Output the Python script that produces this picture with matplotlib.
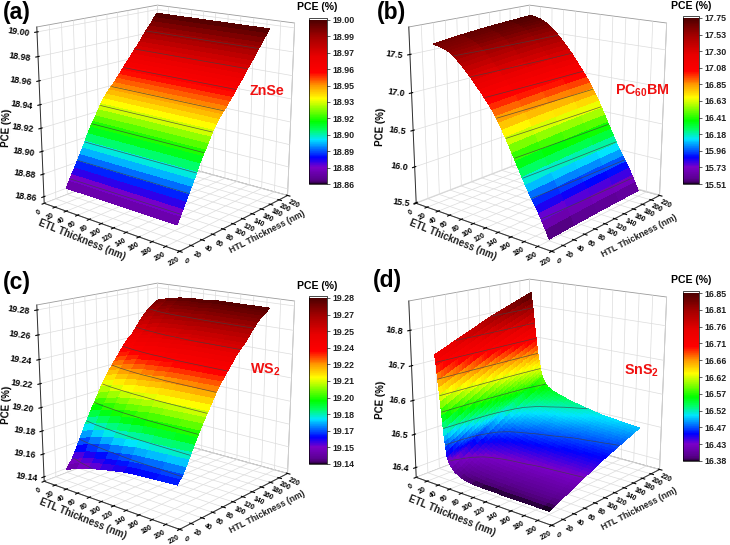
import numpy as np
import matplotlib
matplotlib.use('Agg')
import matplotlib.pyplot as plt
from matplotlib.cm import ScalarMappable
from matplotlib.colors import LinearSegmentedColormap, Normalize

plt.rcParams['font.family'] = ['Liberation Sans', 'DejaVu Sans']
plt.rcParams['font.weight'] = 'bold'
plt.rcParams['mathtext.fontset'] = 'custom'
plt.rcParams['mathtext.bf'] = 'Liberation Sans:bold'
plt.rcParams['grid.color'] = '#dcdcdc'
plt.rcParams['grid.linewidth'] = 0.5

W, H = 730, 545

axis_ticks = [0, 20, 40, 60, 80, 100, 120, 140, 160, 180, 200, 220]

# thickness nodes (nm)
htl_fine = list(range(20, 200, 5))
etl_even = list(range(20, 205, 5))
etl_wall = list(range(20, 41)) + list(range(45, 205, 5))

# ZnSe
etl_a = [20, 110, 200]
htl_a = htl_fine
low_a = [18.867, 18.867, 18.867]
high_a = [19.0, 19.0, 19.0]
shape_a = [0, .038, .076, .114, .152, .19, .228, .267, .311, .349, .381, .413, .448, .483, .512, .537,
           .561, .58, .599, .624, .644, .668, .693, .715, .736, .761, .787, .805, .83, .855, .88, .903,
           .923, .95, .974, 1]

# PC60BM
etl_b = etl_even
htl_b = [20, 65, 110, 155, 200]
low_b = [17.63, 17.62, 17.61, 17.60, 17.59, 17.57, 17.55, 17.52, 17.48, 17.44, 17.40, 17.35, 17.31,
         17.26, 17.21, 17.16, 17.11, 17.05, 17.00, 16.94, 16.87, 16.80, 16.72, 16.64, 16.55, 16.46,
         16.37, 16.28, 16.19, 16.10, 16.02, 15.94, 15.87, 15.79, 15.70, 15.61, 15.51]
high_b = [17.75, 17.74, 17.73, 17.72, 17.70, 17.68, 17.65, 17.62, 17.58, 17.54, 17.50, 17.45, 17.40,
          17.35, 17.30, 17.24, 17.18, 17.12, 17.06, 17.00, 16.93, 16.86, 16.78, 16.70, 16.61, 16.52,
          16.43, 16.34, 16.25, 16.16, 16.08, 16.00, 15.93, 15.85, 15.76, 15.67, 15.57]
shape_b = [0, .35, .62, .84, 1]

# WS2
etl_c = [20, 40, 60, 80, 100, 120, 140, 170, 200]
htl_c = htl_fine
low_c = [19.146, 19.150, 19.153, 19.156, 19.158, 19.160, 19.161, 19.162, 19.163]
high_c = [19.272, 19.275, 19.277, 19.278, 19.278, 19.279, 19.279, 19.279, 19.279]
shape_c = [0, .027, .053, .093, .137, .179, .222, .265, .304, .344, .38, .415, .452, .49, .524, .557,
           .585, .612, .64, .665, .69, .718, .743, .764, .785, .80, .826, .85, .875, .897, .92, .938,
           .956, .97, .98, 1]

# SnS2
etl_d = etl_wall
htl_d = list(range(20, 205, 5))
low_d = [16.73, 16.715, 16.70, 16.68, 16.66, 16.64, 16.62, 16.60, 16.58, 16.56, 16.54, 16.52, 16.50,
         16.485, 16.47, 16.455, 16.44, 16.435, 16.43, 16.425, 16.42,
         16.41, 16.40, 16.395, 16.39, 16.387, 16.385, 16.384, 16.383, 16.382, 16.382,
         16.381, 16.381, 16.381, 16.381, 16.381, 16.381,
         16.38, 16.38, 16.38, 16.38, 16.38, 16.38, 16.38, 16.38,
         16.38, 16.38, 16.38, 16.38, 16.38, 16.38, 16.38, 16.38]
high_d = [16.85, 16.835, 16.82, 16.805, 16.79, 16.77, 16.75, 16.735, 16.72, 16.705, 16.69, 16.675, 16.66,
          16.65, 16.64, 16.63, 16.62, 16.61, 16.60, 16.595, 16.59,
          16.57, 16.56, 16.555, 16.55, 16.547, 16.544, 16.541, 16.538, 16.535, 16.532,
          16.53, 16.528, 16.526, 16.524, 16.522, 16.52, 16.518, 16.516, 16.514, 16.512,
          16.511, 16.51, 16.509, 16.508, 16.507, 16.506, 16.505, 16.504, 16.503, 16.502, 16.501, 16.50]
shape_d = [0, .03, .06, .09, .12, .15, .18, .21, .24, .27, .30, .33, .36, .39, .42, .45, .48, .51, .54,
           .57, .60, .625, .65, .675, .70, .725, .75, .775, .80, .825, .85, .875, .90, .925, .95, .975, 1]

# axis ranges and labels
zlim_a = (18.854, 19.004)
zlim_b = (15.49, 17.85)
zlim_c = (19.136, 19.284)
zlim_d = (16.37, 16.881)
zticks_a = [18.86, 18.88, 18.90, 18.92, 18.94, 18.96, 18.98, 19.00]
zticks_b = [15.5, 16.0, 16.5, 17.0, 17.5]
zticks_c = [19.14, 19.16, 19.18, 19.20, 19.22, 19.24, 19.26, 19.28]
zticks_d = [16.4, 16.5, 16.6, 16.7, 16.8]
bar_a = ['18.86', '18.88', '18.89', '18.90', '18.92', '18.93', '18.95', '18.96', '18.97', '18.99', '19.00']
bar_b = ['15.51', '15.73', '15.96', '16.18', '16.41', '16.63', '16.85', '17.08', '17.30', '17.53', '17.75']
bar_c = ['19.14', '19.15', '19.17', '19.18', '19.20', '19.21', '19.22', '19.24', '19.25', '19.27', '19.28']
bar_d = ['16.38', '16.43', '16.47', '16.52', '16.57', '16.62', '16.66', '16.71', '16.76', '16.81', '16.85']

rainbow = LinearSegmentedColormap.from_list('pce', [
    (0.00, '#1a0025'), (0.012, '#4a0070'), (0.03, '#5a0090'), (0.10, '#7a00c8'), (0.16, '#0000ff'),
    (0.27, '#00e5ff'), (0.33, '#00ff60'), (0.38, '#00ff00'), (0.52, '#ffff00'),
    (0.60, '#ff9900'), (0.68, '#ff0000'), (0.78, '#e80000'), (0.90, '#a00000'),
    (1.00, '#4d0000')], N=256)
rainbow.set_over('white')


def px(x, y):
    return x / W, 1 - y / H


def draw_panel(etl, htl, low, high, shape, zlim, zticks, zfmt, bar_labels, box, cbar_box,
               letter, letter_xy, pce_xy, name, name_xy, etl_xy, htl_xy, zlab_xy):
    # the table is low + (high - low) * shape, rows along ETL, columns along HTL
    low, high, shape = np.array(low), np.array(high), np.array(shape)
    table = low[:, None] + (high - low)[:, None] * shape[None, :]
    X, Y = np.meshgrid(etl, htl, indexing='ij')

    left, top, size = box
    ax = fig.add_axes([left / W, 1 - (top + size) / H, size / W, size / H],
                      projection='3d', computed_zorder=False)
    ax.patch.set_alpha(0)
    ax.set_proj_type('persp', focal_length=0.5)
    ax.view_init(elev=16, azim=-50)
    ax.set_box_aspect((1, 1, 1.02), zoom=0.94)
    ax.set_xlim(0, 220)
    ax.set_ylim(0, 220)
    ax.set_zlim(*zlim)

    bar_lo, bar_hi = float(bar_labels[0]), float(bar_labels[-1])
    norm = Normalize(bar_lo, bar_hi)
    ax.plot_surface(X, Y, table, cmap=rainbow, norm=norm, shade=False, rstride=1, cstride=1,
                    linewidth=0, antialiased=False, zorder=2)
    levels = np.linspace(bar_lo, bar_hi, 11)[1:-1]
    ax.contour(X, Y, table, levels=levels, colors='#404040', linewidths=0.5, alpha=0.8, zorder=3)

    ax.set_xticks(axis_ticks)
    ax.set_yticks(axis_ticks)
    ax.set_zticks(zticks)
    ax.set_xticklabels([str(t) for t in axis_ticks], rotation=30, fontsize=5, ha='center', va='center')
    ax.set_yticklabels([str(t) for t in axis_ticks], rotation=-25, fontsize=5, ha='center', va='center')
    ax.set_zticklabels([zfmt % t for t in zticks], rotation=-8, fontsize=6.3, ha='right', va='center')
    ax.tick_params(axis='x', pad=-3, length=2)
    ax.tick_params(axis='y', pad=-3, length=2)
    ax.tick_params(axis='z', pad=-5, length=2)
    ax.zaxis.set_ticks_position('lower')
    for axis in (ax.xaxis, ax.yaxis, ax.zaxis):
        axis.set_pane_color((1, 1, 1, 1))
        axis.pane.set_edgecolor('#9a9a9a')
        axis.pane.set_linewidth(0.6)
        axis.line.set_color('#303030')
        axis.line.set_linewidth(0.7)

    fig.text(*px(*etl_xy), 'ETL Thickness (nm)', fontsize=7, rotation=-22, rotation_mode='anchor',
             ha='center', va='center', color='#202020')
    fig.text(*px(*htl_xy), 'HTL Thickness (nm)', fontsize=6.3, rotation=27, rotation_mode='anchor',
             ha='center', va='center', color='#202020')
    fig.text(*px(*zlab_xy), 'PCE (%)', fontsize=7, rotation=88, ha='center', va='center')

    x0, y0, x1, y1 = cbar_box
    cax = fig.add_axes([x0 / W, 1 - y1 / H, (x1 - x0) / W, (y1 - y0) / H])
    cbar = fig.colorbar(ScalarMappable(norm=norm, cmap=rainbow), cax=cax, extend='max',
                        extendfrac=0.012, extendrect=True)
    cbar.set_ticks(np.linspace(bar_lo, bar_hi, 11), labels=bar_labels)
    cbar.ax.tick_params(length=2, width=0.5, pad=2, labelsize=6.4, colors='#202020')
    cbar.outline.set_linewidth(0.5)

    fig.text(*px(*letter_xy), letter, fontsize=16.5, ha='left', va='center')
    fig.text(*px(*pce_xy), 'PCE (%)', fontsize=7.6, ha='center', va='center')
    fig.text(*px(*name_xy), name, fontsize=10.3, color='#f01010', ha='center', va='center')


fig = plt.figure(figsize=(W / 100, H / 100), dpi=100, facecolor='white')

draw_panel(etl_a, htl_a, low_a, high_a, shape_a, zlim_a, zticks_a, '%.2f', bar_a,
           (3, -41, 320), (309, 18, 327, 184), '(a)', (3, 13), (317, 7), 'ZnSe', (267, 91),
           (82, 240), (267, 232), (7, 128))
draw_panel(etl_b, htl_b, low_b, high_b, shape_b, zlim_b, zticks_b, '%.1f', bar_b,
           (375, -41, 320), (683, 16, 699, 184), '(b)', (377, 13), (691, 6), r'PC$_{\mathbf{60}}$BM', (642, 91),
           (453, 240), (639, 236), (381, 127))
draw_panel(etl_c, htl_c, low_c, high_c, shape_c, zlim_c, zticks_c, '%.2f', bar_c,
           (3, 237, 320), (309, 296, 327, 464), '(c)', (3, 282), (317, 286), r'WS$_{\mathbf{2}}$', (265, 370),
           (83, 519), (267, 512), (7, 405))
draw_panel(etl_d, htl_d, low_d, high_d, shape_d, zlim_d, zticks_d, '%.1f', bar_d,
           (375, 233, 320), (683, 291, 699, 461), '(d)', (373, 280), (691, 280), r'SnS$_{\mathbf{2}}$', (642, 371),
           (452, 516), (639, 509), (381, 400))

fig.savefig('out.png', dpi=100)
